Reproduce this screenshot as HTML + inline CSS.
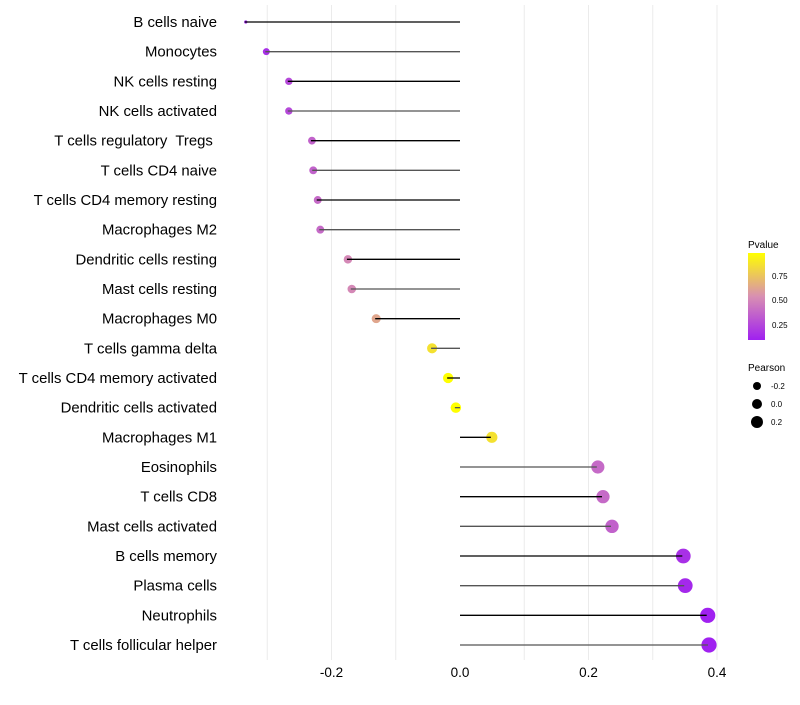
<!DOCTYPE html>
<html><head><meta charset="utf-8"><style>
body{margin:0;background:#fff;}
svg text{font-family:"Liberation Sans",sans-serif;white-space:pre;}
</style></head><body>
<svg id="chart" width="800" height="700" xmlns="http://www.w3.org/2000/svg">
<defs><linearGradient id="pg" x1="0" y1="1" x2="0" y2="0">
<stop offset="0" stop-color="#a020f0"/><stop offset="0.5" stop-color="#d88fb2"/><stop offset="1" stop-color="#ffff00"/>
</linearGradient></defs>
<g id="grid"></g>
<g id="dots"></g>
<g id="segs"></g>
<g id="ylab"></g>
<g id="xlab"></g>
<g>
<text x="748" y="248" font-size="10">Pvalue</text>
<rect x="748" y="253" width="17" height="87" fill="url(#pg)"/>
<text x="772" y="279" font-size="8">0.75</text>
<text x="772" y="303" font-size="8">0.50</text>
<text x="772" y="328" font-size="8">0.25</text>
</g>
<g>
<text x="748" y="371" font-size="10">Pearson</text>
<circle cx="757" cy="386" r="4" fill="#000"/>
<circle cx="757" cy="404" r="5" fill="#000"/>
<circle cx="757" cy="422" r="6" fill="#000"/>
<text x="771" y="389" font-size="8">-0.2</text>
<text x="771" y="407" font-size="8">0.0</text>
<text x="771" y="425" font-size="8">0.2</text>
</g>
</svg>
<script>
const categories=["B cells naive","Monocytes","NK cells resting","NK cells activated","T cells regulatory  Tregs ","T cells CD4 naive","T cells CD4 memory resting","Macrophages M2","Dendritic cells resting","Mast cells resting","Macrophages M0","T cells gamma delta","T cells CD4 memory activated","Dendritic cells activated","Macrophages M1","Eosinophils","T cells CD8","Mast cells activated","B cells memory","Plasma cells","Neutrophils","T cells follicular helper"];
const pearson=[-0.335,-0.303,-0.268,-0.268,-0.232,-0.230,-0.223,-0.219,-0.176,-0.170,-0.132,-0.045,-0.020,-0.008,0.048,0.213,0.221,0.235,0.346,0.349,0.384,0.386];
const pvalue=[0.09,0.15,0.25,0.25,0.35,0.35,0.38,0.38,0.5,0.5,0.62,0.85,0.97,0.97,0.85,0.38,0.38,0.35,0.15,0.12,0.09,0.09];
const xTicks=[-0.2,0.0,0.2,0.4];
const xTickLabels=["-0.2","0.0","0.2","0.4"];
const gridVals=[-0.3,-0.2,-0.1,0.1,0.2,0.3,0.4];
const NS="http://www.w3.org/2000/svg";
const X=v=>460+v*642.5;
const Y=i=>22+i*(623/(categories.length-1));
function mk(tag,attrs,parent){const e=document.createElementNS(NS,tag);for(const k in attrs)e.setAttribute(k,attrs[k]);parent.appendChild(e);return e;}
function lerp(a,b,t){return Math.round(a+(b-a)*t);}
function col(p){const t=Math.max(0,Math.min(1,(p-0.087)/(0.97-0.087)));
 const s=[[160,32,240],[216,143,178],[255,255,0]];let a,b,u;
 if(t<0.5){a=s[0];b=s[1];u=t/0.5;}else{a=s[1];b=s[2];u=(t-0.5)/0.5;}
 return `rgb(${lerp(a[0],b[0],u)},${lerp(a[1],b[1],u)},${lerp(a[2],b[2],u)})`;}
function rad(v){const r=5.3+6*v;return v<-0.32?1.6:Math.max(2.7,r);}
const g=document.getElementById('grid'),sg=document.getElementById('segs'),dg=document.getElementById('dots'),yl=document.getElementById('ylab'),xl=document.getElementById('xlab');
gridVals.forEach(v=>{const l=mk('line',{x1:X(v),x2:X(v),y1:5,y2:660,stroke:'#ebebeb','stroke-width':1},g);

});
categories.forEach((c,i)=>{
 const y=Y(i);
 const d=mk('circle',{cx:X(pearson[i])+1,cy:y,r:rad(pearson[i]),fill:col(pvalue[i])},dg);
 
 
 const s=mk('line',{x1:X(0),x2:X(pearson[i]),y1:y,y2:y,stroke:i%2?'#555':'#000','stroke-width':1.3},sg);
 
 
 const t=mk('text',{x:217,y:y+5,'text-anchor':'end','font-size':14.9,fill:'#000'},yl);t.textContent=c;
 
 
});
xTicks.forEach((v,i)=>{const t=mk('text',{x:X(v),y:677,'text-anchor':'middle','font-size':13.5,fill:'#000'},xl);t.textContent=xTickLabels[i];
 
 });
</script>
</body></html>
